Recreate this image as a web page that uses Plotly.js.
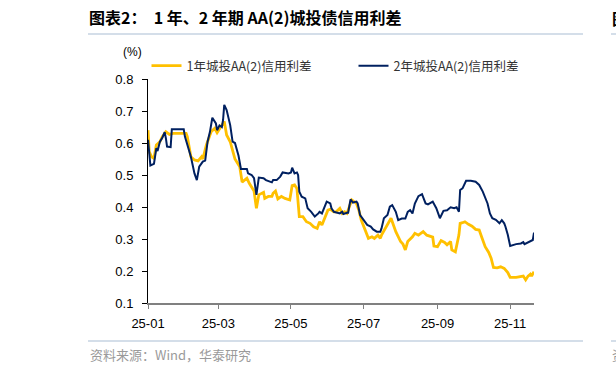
<!DOCTYPE html>
<html><head><meta charset="utf-8">
<script src="https://cdn.plot.ly/plotly-3.0.1.min.js"></script>
<style>html,body{margin:0;padding:0;background:#fff;}#chart{width:616px;height:372px;}</style>
</head><body><div id="chart"></div>
<script>
const dates1 = ['2025-01-01','2025-01-02','2025-01-04','2025-01-06','2025-01-08','2025-01-11','2025-01-13','2025-01-16','2025-01-19','2025-01-22',
'2025-02-02','2025-02-03','2025-02-06','2025-02-09','2025-02-12','2025-02-15','2025-02-16','2025-02-19','2025-02-23','2025-02-26','2025-02-28',
'2025-03-03','2025-03-06','2025-03-08','2025-03-11','2025-03-15','2025-03-18','2025-03-19','2025-03-21','2025-03-23','2025-03-25','2025-03-27','2025-03-30','2025-03-31',
'2025-04-02','2025-04-04','2025-04-08','2025-04-09','2025-04-12','2025-04-15','2025-04-16','2025-04-18','2025-04-20','2025-04-23','2025-04-26','2025-04-30',
'2025-05-02','2025-05-04','2025-05-06','2025-05-07','2025-05-08','2025-05-11','2025-05-14','2025-05-17','2025-05-20','2025-05-23','2025-05-25','2025-05-27','2025-05-30',
'2025-06-01','2025-06-03','2025-06-06','2025-06-08','2025-06-11','2025-06-13','2025-06-15','2025-06-17','2025-06-21','2025-06-25','2025-06-27','2025-06-29',
'2025-07-02','2025-07-05','2025-07-08','2025-07-10','2025-07-13','2025-07-15','2025-07-16','2025-07-19','2025-07-22','2025-07-24','2025-07-26','2025-07-28',
'2025-08-01','2025-08-03','2025-08-05','2025-08-07','2025-08-11','2025-08-13','2025-08-16','2025-08-19','2025-08-20','2025-08-23','2025-08-26','2025-08-28','2025-08-29',
'2025-09-01','2025-09-04','2025-09-07','2025-09-09','2025-09-12','2025-09-13','2025-09-16','2025-09-19','2025-09-20','2025-09-22','2025-09-24','2025-09-27','2025-09-30',
'2025-10-03','2025-10-06','2025-10-08','2025-10-11','2025-10-14','2025-10-16','2025-10-18','2025-10-21','2025-10-24','2025-10-27','2025-10-30',
'2025-11-01','2025-11-06','2025-11-10','2025-11-12','2025-11-14','2025-11-16','2025-11-18','2025-11-19','2025-11-21'];
const spread1Y = [0.64,0.573,0.557,0.552,0.594,0.604,0.62,0.635,0.627,0.63,
0.63,0.62,0.557,0.547,0.544,0.557,0.55,0.594,0.635,0.646,0.632,
0.651,0.667,0.625,0.604,0.55,0.53,0.526,0.478,0.484,0.49,0.474,0.453,0.45,
0.396,0.438,0.446,0.427,0.433,0.433,0.443,0.45,0.425,0.433,0.427,0.422,
0.467,0.469,0.458,0.396,0.37,0.37,0.354,0.349,0.338,0.333,0.354,0.344,0.37,
0.39,0.393,0.385,0.385,0.396,0.38,0.385,0.38,0.422,0.411,0.39,0.359,
0.333,0.302,0.307,0.302,0.312,0.302,0.312,0.333,0.354,0.365,0.344,0.323,
0.292,0.284,0.266,0.292,0.307,0.318,0.312,0.32,0.323,0.312,0.307,0.306,0.278,
0.276,0.295,0.289,0.282,0.292,0.266,0.26,0.313,0.349,0.351,0.354,0.346,0.34,
0.33,0.328,0.307,0.276,0.258,0.24,0.211,0.21,0.213,0.208,0.195,
0.18,0.18,0.182,0.184,0.172,0.184,0.19,0.184,0.198];

const dates2 = ['2025-01-01','2025-01-02','2025-01-03','2025-01-06','2025-01-08','2025-01-09','2025-01-11','2025-01-13','2025-01-15','2025-01-16','2025-01-17','2025-01-20','2025-01-21','2025-01-31',
'2025-02-01','2025-02-06','2025-02-09','2025-02-11','2025-02-13','2025-02-16','2025-02-18','2025-02-20','2025-02-22','2025-02-24','2025-02-27','2025-02-28',
'2025-03-02','2025-03-04','2025-03-05','2025-03-06','2025-03-08','2025-03-11','2025-03-13','2025-03-15','2025-03-18','2025-03-20','2025-03-25','2025-03-26','2025-03-29','2025-03-31',
'2025-04-02','2025-04-04','2025-04-08','2025-04-10','2025-04-15','2025-04-16','2025-04-19','2025-04-22','2025-04-24','2025-04-29',
'2025-05-01','2025-05-02','2025-05-04','2025-05-06','2025-05-07','2025-05-08','2025-05-10','2025-05-13','2025-05-15','2025-05-18','2025-05-21','2025-05-24','2025-05-25','2025-05-27','2025-05-29','2025-05-31',
'2025-06-03','2025-06-04','2025-06-06','2025-06-08','2025-06-11','2025-06-13','2025-06-14','2025-06-17','2025-06-18','2025-06-20','2025-06-22','2025-06-25','2025-06-26','2025-06-28',
'2025-07-01','2025-07-04','2025-07-07','2025-07-09','2025-07-12','2025-07-15','2025-07-16','2025-07-18','2025-07-21','2025-07-23','2025-07-25','2025-07-28','2025-07-30',
'2025-08-02','2025-08-05','2025-08-07','2025-08-09','2025-08-11','2025-08-13','2025-08-16','2025-08-19','2025-08-22','2025-08-24','2025-08-28','2025-08-31',
'2025-09-03','2025-09-06','2025-09-09','2025-09-12','2025-09-15','2025-09-17','2025-09-19','2025-09-20','2025-09-22','2025-09-25','2025-09-29',
'2025-10-03','2025-10-06','2025-10-09','2025-10-11','2025-10-13','2025-10-15','2025-10-17','2025-10-20','2025-10-23','2025-10-25','2025-10-27','2025-10-28','2025-10-30',
'2025-11-01','2025-11-06','2025-11-10','2025-11-12','2025-11-13','2025-11-16','2025-11-18','2025-11-20','2025-11-21'];
const spread2Y = [0.61,0.56,0.53,0.535,0.584,0.575,0.604,0.616,0.634,0.615,0.589,0.587,0.643,0.643,
0.62,0.557,0.505,0.484,0.526,0.542,0.545,0.604,0.635,0.679,0.661,0.64,
0.655,0.65,0.672,0.719,0.703,0.656,0.604,0.6,0.56,0.519,0.519,0.505,0.5,0.49,
0.438,0.492,0.49,0.484,0.477,0.484,0.484,0.495,0.508,0.505,
0.508,0.523,0.505,0.508,0.5,0.448,0.432,0.427,0.396,0.385,0.37,0.38,0.385,0.38,0.396,0.417,
0.411,0.396,0.385,0.382,0.38,0.385,0.378,0.382,0.382,0.424,0.414,0.417,0.411,0.375,
0.36,0.344,0.339,0.33,0.323,0.323,0.333,0.365,0.375,0.401,0.406,0.385,0.359,
0.364,0.364,0.385,0.39,0.38,0.411,0.434,0.44,0.411,0.408,0.417,0.396,
0.365,0.388,0.39,0.399,0.396,0.399,0.385,0.453,0.458,0.482,0.482,
0.479,0.469,0.448,0.427,0.411,0.38,0.365,0.36,0.349,0.359,0.349,0.339,0.313,
0.278,0.284,0.286,0.29,0.284,0.29,0.294,0.297,0.32];

const seriesNames = ['1年城投AA(2)信用利差', '2年城投AA(2)信用利差'];
const tickVals = ['2025-01-01','2025-03-01','2025-05-01','2025-07-01','2025-09-01','2025-11-01'];
const tickText = ['25-01','25-03','25-05','25-07','25-09','25-11'];
const yTicks = [0.1,0.2,0.3,0.4,0.5,0.6,0.7,0.8];

const W = 616, H = 372, L = 148, R = 82, T = 79, B = 69;
const pw = W - L - R, ph = H - T - B;
const px = x => (x - L) / pw;
const py = y => (H - B - y) / ph;

const traces = [
  {x: dates1, y: spread1Y, name: seriesNames[0], type: 'scatter', mode: 'lines',
   line: {color: '#FFC000', width: 2.8}},
  {x: dates2, y: spread2Y, name: seriesNames[1], type: 'scatter', mode: 'lines',
   line: {color: '#002060', width: 2}}
];

const sepColor = '#a9bdd3';
const layout = {
  width: W, height: H,
  margin: {l: L, r: R, t: T, b: B, pad: 0},
  paper_bgcolor: '#fff', plot_bgcolor: '#fff',
  showlegend: true,
  font: {family: 'Liberation Sans, Arial, sans-serif', color: '#000'},
  title: {text: '<b>图表2：  1 年、2 年期 AA(2)城投债信用利差</b>',
    xref: 'container', yref: 'container', x: 89 / W, xanchor: 'left', y: 1 - 18 / H, yanchor: 'middle',
    font: {family: 'Noto Sans CJK SC, sans-serif', size: 16, color: '#000'}},
  legend: {orientation: 'h', x: px(146.5), xanchor: 'left', y: py(66), yanchor: 'middle',
    font: {family: 'Noto Sans CJK SC, sans-serif', size: 12.5, color: '#333'},
    bgcolor: 'rgba(0,0,0,0)', entrywidth: 162, entrywidthmode: 'pixels', itemwidth: 30, traceorder: 'normal'},
  xaxis: {type: 'date', range: ['2025-01-01', '2025-11-21'],
    tickmode: 'array', tickvals: tickVals, ticktext: tickText,
    showgrid: false, zeroline: false, showline: true, linecolor: '#808080', linewidth: 2,
    ticks: 'outside', ticklen: 4, tickcolor: '#808080', tickwidth: 1,
    tickfont: {family: 'Liberation Sans, Arial, sans-serif', size: 13, color: '#000'}, ticklabelstandoff: 3},
  yaxis: {range: [0.1, 0.8], tickmode: 'array', tickvals: yTicks, tickformat: '.1f',
    showgrid: false, zeroline: false, showline: true, linecolor: '#000', linewidth: 1,
    ticks: 'outside', ticklen: 5, tickcolor: '#000', tickwidth: 1,
    tickfont: {family: 'Liberation Sans, Arial, sans-serif', size: 13, color: '#000'}, ticklabelstandoff: 6},
  shapes: [
    {type: 'line', xref: 'paper', yref: 'paper', x0: px(88), x1: px(583), y0: py(34), y1: py(34), line: {color: sepColor, width: 1}},
    {type: 'line', xref: 'paper', yref: 'paper', x0: px(611), x1: px(616), y0: py(34), y1: py(34), line: {color: sepColor, width: 1}},
    {type: 'line', xref: 'paper', yref: 'paper', x0: px(88), x1: px(583), y0: py(341), y1: py(341), line: {color: sepColor, width: 1}},
    {type: 'line', xref: 'paper', yref: 'paper', x0: px(611), x1: px(616), y0: py(341), y1: py(341), line: {color: sepColor, width: 1}}
  ],
  annotations: [
    {text: '(%)', xref: 'paper', yref: 'paper', x: px(132), y: py(52), xanchor: 'center', yanchor: 'middle', showarrow: false,
     font: {family: 'Liberation Sans, Arial, sans-serif', size: 12, color: '#000'}},
    {text: '资料来源：Wind，华泰研究', xref: 'paper', yref: 'paper', x: px(88), y: py(354), xanchor: 'left', yanchor: 'middle', showarrow: false,
     font: {family: 'Noto Sans CJK SC, sans-serif', size: 13, color: '#9a9a9a'}},
    {text: '<b>图</b>', xref: 'paper', yref: 'paper', x: px(610), y: py(18), xanchor: 'left', yanchor: 'middle', showarrow: false,
     font: {family: 'Noto Sans CJK SC, sans-serif', size: 16, color: '#000'}},
    {text: '资', xref: 'paper', yref: 'paper', x: px(610), y: py(354), xanchor: 'left', yanchor: 'middle', showarrow: false,
     font: {family: 'Noto Sans CJK SC, sans-serif', size: 13, color: '#9a9a9a'}}
  ]
};

Plotly.newPlot('chart', traces, layout, {displayModeBar: false, staticPlot: true});
</script></body></html>
